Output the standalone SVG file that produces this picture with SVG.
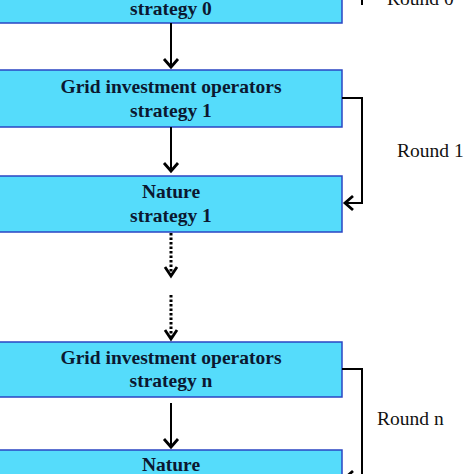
<svg xmlns="http://www.w3.org/2000/svg" width="474" height="474" viewBox="0 0 474 474">
<style>
.box{fill:#55dcfb;stroke:#2a46c4;stroke-width:1.5}
.t{font-family:"Liberation Serif","Times New Roman",serif;font-weight:bold;font-size:19.5px;fill:#0b1830;text-anchor:middle}
.r{font-family:"Liberation Serif","Times New Roman",serif;font-size:19.5px;fill:#111}
.ln{fill:none;stroke:#000;stroke-width:2}
.dt{fill:none;stroke:#000;stroke-width:3;stroke-dasharray:2.5 2}
.hd{fill:none;stroke:#000;stroke-width:2.8}
</style>
<rect width="474" height="474" fill="#fff"/>
<g id="node-s0">
<rect class="box" x="-2" y="-10" width="344" height="33"/>
<text class="t" x="171" y="15">strategy 0</text>
</g>
<g id="node-g1">
<rect class="box" x="-2" y="70" width="344" height="57"/>
<text class="t" x="171" y="93">Grid investment operators</text>
<text class="t" x="171" y="117">strategy 1</text>
</g>
<g id="node-n1">
<rect class="box" x="-2" y="176" width="344" height="56"/>
<text class="t" x="171" y="198">Nature</text>
<text class="t" x="171" y="222">strategy 1</text>
</g>
<g id="node-gn">
<rect class="box" x="-2" y="342" width="344" height="55"/>
<text class="t" x="171" y="364">Grid investment operators</text>
<text class="t" x="171" y="387">strategy n</text>
</g>
<g id="node-nn">
<rect class="box" x="-2" y="450" width="344" height="40"/>
<text class="t" x="171" y="471">Nature</text>
</g>
<g id="connectors">
<line class="ln" x1="171" y1="23" x2="171" y2="67"/>
<path class="hd" d="M164,59 L171,67 L178,59"/>
<line class="ln" x1="171" y1="127" x2="171" y2="171"/>
<path class="hd" d="M164,163 L171,171 L178,163"/>
<line class="dt" x1="171" y1="233" x2="171" y2="275"/>
<path class="hd" d="M165,267 L171,276 L177,267"/>
<line class="dt" x1="171" y1="295" x2="171" y2="338"/>
<path class="hd" d="M165,330 L171,339 L177,330"/>
<line class="ln" x1="171" y1="403" x2="171" y2="447"/>
<path class="hd" d="M164,439 L171,447 L178,439"/>
<path class="ln" d="M342,98 H362 V203 H345"/>
<path class="hd" d="M353,196 L345,203 L353,210"/>
<path class="ln" d="M342,369 H362 V478 H345"/>
<path class="hd" d="M353,471 L345,478 L353,485"/>
<path class="ln" d="M362,-20 V5"/>
</g>
<text class="r" x="397" y="157">Round 1</text>
<text class="r" x="377" y="425">Round n</text>
<text class="r" x="387" y="5" fill="#666">Round 0</text>
</svg>
